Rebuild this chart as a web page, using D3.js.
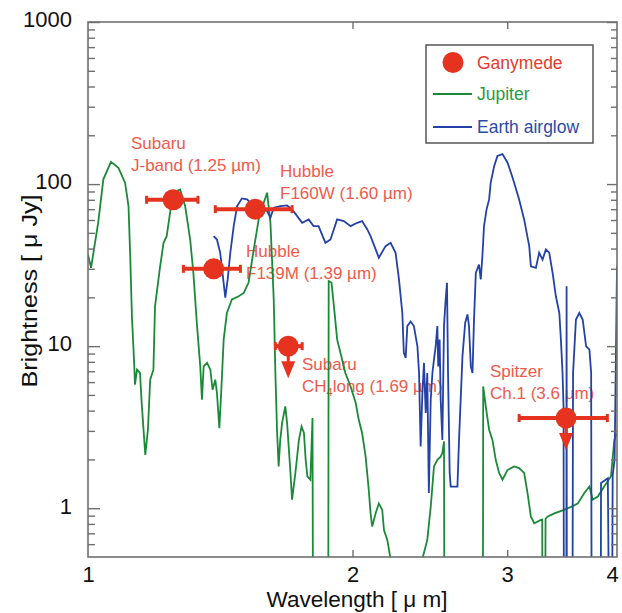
<!DOCTYPE html>
<html>
<head>
<meta charset="utf-8">
<script src="https://cdn.jsdelivr.net/npm/d3@7"></script>
<style>
  body { margin: 0; background: #fff; }
  text { font-family: "Liberation Sans", Arial, sans-serif; }
</style>
</head>
<body>
<script>
// axis settings
var xDomain = [1, 4];
var yDomain = [0.5, 1000];
var xTicks = [1, 2, 3, 4];
var yTicks = [1, 10, 100, 1000];

// Jupiter spectrum [wavelength um, brightness uJy] (0.3 = below the plot floor)
var jupiter = [
  [1.000, 36.8], [1.008, 30.4], [1.027, 57.7], [1.041, 107], [1.062, 137], [1.083, 126],
  [1.102, 102], [1.112, 73.1], [1.117, 35.9], [1.122, 15.3], [1.129, 7.50], [1.131, 5.78],
  [1.137, 7.16], [1.146, 6.83], [1.151, 4.48], [1.162, 2.13], [1.170, 3.05], [1.177, 6.21],
  [1.187, 7.16], [1.192, 17.6], [1.208, 31.1], [1.219, 43.4], [1.229, 47.7], [1.240, 66.6],
  [1.251, 88.5], [1.273, 92.7], [1.290, 73.1], [1.307, 45.5], [1.318, 28.3], [1.330, 13.9],
  [1.342, 7.50], [1.348, 4.67], [1.354, 7.50], [1.366, 7.88], [1.378, 7.16], [1.386, 5.38],
  [1.396, 6.21], [1.402, 5.14], [1.411, 3.12], [1.420, 6.21], [1.427, 11.0], [1.439, 16.0],
  [1.458, 19.4], [1.484, 20.3], [1.504, 21.3], [1.523, 24.6], [1.544, 39.5], [1.564, 60.5],
  [1.585, 76.7], [1.599, 88.5], [1.613, 57.7], [1.627, 19.4], [1.634, 6.83], [1.641, 3.05],
  [1.648, 1.81], [1.655, 2.64], [1.663, 3.35], [1.677, 4.25], [1.685, 3.35], [1.700, 1.65],
  [1.707, 1.13], [1.722, 1.65], [1.738, 2.64], [1.750, 3.19], [1.761, 2.91], [1.769, 1.99],
  [1.777, 1.57], [1.791, 1.50], [1.801, 3.60], [1.803, 0.3], [1.877, 0.3], [1.879, 25.2],
  [1.893, 24.6], [1.905, 17.6], [1.921, 11.0], [1.938, 9.08], [1.963, 6.83], [1.990, 5.64],
  [2.017, 4.46], [2.033, 3.51], [2.051, 2.91], [2.070, 2.08], [2.087, 1.30], [2.097, 0.93],
  [2.106, 0.77], [2.125, 0.93], [2.143, 1.07], [2.162, 0.976], [2.172, 0.734], [2.191, 0.637],
  [2.215, 0.45], [2.230, 0.3], [2.380, 0.3], [2.405, 0.5], [2.433, 0.637], [2.455, 1.02],
  [2.476, 1.81], [2.498, 1.99], [2.520, 2.08], [2.531, 2.19], [2.542, 2.58], [2.544, 0.3],
  [2.815, 0.3], [2.817, 5.64], [2.836, 4.25], [2.861, 3.05], [2.886, 2.64], [2.911, 1.99],
  [2.937, 1.65], [2.963, 1.50], [3.002, 1.72], [3.055, 1.81], [3.095, 1.77], [3.136, 1.65],
  [3.164, 1.24], [3.192, 0.887], [3.220, 0.808], [3.277, 0.847], [3.288, 0.85], [3.290, 0.3],
  [3.315, 0.3], [3.317, 0.86], [3.334, 0.887], [3.394, 0.93], [3.483, 0.976], [3.545, 1.02],
  [3.609, 1.07], [3.672, 1.24], [3.721, 1.36], [3.754, 1.13], [3.804, 1.18], [3.868, 1.36],
  [3.937, 1.57], [3.972, 2.64], [4.000, 2.91]
];

// Earth airglow spectrum
var airglow = [
  [1.390, 47.7], [1.402, 45.5], [1.414, 37.7], [1.424, 27.0], [1.433, 19.9], [1.442, 25.8],
  [1.452, 37.7], [1.465, 55.0], [1.478, 73.1], [1.497, 81.6], [1.517, 80.4], [1.537, 74.9],
  [1.571, 71.5], [1.599, 68.1], [1.613, 62.0], [1.627, 71.5], [1.655, 73.1], [1.685, 73.8],
  [1.707, 69.8], [1.730, 63.4], [1.753, 57.7], [1.783, 60.5], [1.806, 55.0], [1.830, 55.0],
  [1.863, 43.4], [1.888, 45.5], [1.921, 60.5], [1.955, 59.1], [1.990, 55.0], [2.025, 57.7],
  [2.051, 59.1], [2.079, 52.5], [2.097, 47.7], [2.143, 35.1], [2.181, 41.4], [2.210, 43.4],
  [2.239, 37.7], [2.259, 25.8], [2.279, 16.0], [2.288, 9.08], [2.299, 8.46], [2.309, 13.3],
  [2.329, 14.2], [2.349, 13.3], [2.371, 9.97], [2.381, 6.83], [2.391, 2.40], [2.402, 5.14],
  [2.412, 7.88], [2.423, 3.87], [2.433, 6.83], [2.443, 1.24], [2.455, 4.67], [2.466, 6.83],
  [2.476, 8.25], [2.487, 9.97], [2.498, 13.3], [2.504, 7.50], [2.513, 11.0], [2.520, 4.67],
  [2.531, 2.64], [2.542, 13.3], [2.553, 19.4], [2.562, 24.6], [2.569, 6.83], [2.580, 1.65],
  [2.587, 1.36], [2.633, 1.36], [2.644, 2.64], [2.668, 8.65], [2.687, 13.9], [2.703, 15.7],
  [2.714, 13.3], [2.727, 7.50], [2.739, 6.83], [2.750, 14.6], [2.763, 28.3], [2.786, 31.9],
  [2.799, 25.8], [2.811, 35.9], [2.823, 55.0], [2.842, 69.8], [2.861, 80.4], [2.873, 102],
  [2.899, 129], [2.924, 149], [2.963, 153], [3.002, 136], [3.029, 118], [3.055, 102],
  [3.095, 80.4], [3.136, 60.5], [3.178, 41.4], [3.192, 31.1], [3.234, 30.4], [3.262, 37.7],
  [3.291, 34.2], [3.320, 39.5], [3.349, 37.7], [3.379, 28.3], [3.408, 20.3], [3.439, 16.0],
  [3.453, 11.0], [3.468, 6.83], [3.477, 4.25], [3.480, 0.3], [3.503, 0.3], [3.505, 23.4],
  [3.507, 0.3], [3.560, 0.3], [3.565, 6.83], [3.592, 14.6], [3.624, 16.0], [3.656, 14.6],
  [3.689, 9.97], [3.721, 9.51], [3.738, 6.83], [3.742, 0.3], [3.834, 0.3], [3.836, 1.43],
  [3.905, 1.53], [3.915, 0.3], [3.950, 0.3], [3.955, 1.60], [3.975, 2.00], [3.990, 10.0],
  [4.000, 31.0]
];

// Ganymede measurements
var ganyName = ["Subaru J-band", "Hubble F160W", "Hubble F139M", "Subaru CH4long", "Spitzer Ch.1"];
var ganyWave = [1.25, 1.55, 1.39, 1.69, 3.50];
var ganyWaveLo = [1.166, 1.396, 1.284, 1.634, 3.095];
var ganyWaveHi = [1.334, 1.707, 1.491, 1.753, 3.90];
var ganyFlux = [80, 70, 30, 10, 3.6];
var ganyUpper = [false, false, false, true, true];

// annotation texts
var noteLines = [
  ["Subaru", "J-band (1.25 \u00b5m)"],
  ["Hubble", "F160W (1.60 \u00b5m)"],
  ["Hubble", "F139M (1.39 \u00b5m)"],
  ["Subaru", "CH4long (1.69 \u00b5m)"],
  ["Spitzer", "Ch.1 (3.6 \u00b5m)"]
];

var legendNames = ["Ganymede", "Jupiter", "Earth airglow"];

window.onload = function() {
  build_chart();
};

var build_chart = function() {
  var w = 622;
  var h = 613;
  var left = 88, right = 617, top = 22, bottom = 557;
  var red = "#e5331f";
  var noteRed = "#ef5a4c";
  var green = "#1b8a38";
  var blue = "#2341a6";
  var frame = "#707070";

  var x = d3.scaleLog().domain(xDomain).range([left, right]);
  var y = d3.scaleLog().domain(yDomain).range([bottom, top]);

  var svg = d3.select("body")
    .append("svg")
    .attr("width", w)
    .attr("height", h);

  svg.append("defs").append("clipPath")
    .attr("id", "plot")
    .append("rect")
    .attr("x", left).attr("y", top)
    .attr("width", right - left).attr("height", bottom - top);

  // annotations sit under the spectra
  var notePos = [[131, 149], [280, 177], [246, 257], [302, 370], [490, 377]];
  noteLines.forEach(function(lines, i) {
    var t = svg.append("text")
      .attr("x", notePos[i][0]).attr("y", notePos[i][1])
      .attr("font-size", 17)
      .attr("fill", noteRed);
    t.append("tspan").text(lines[0]);
    var second = t.append("tspan")
      .attr("x", notePos[i][0]).attr("dy", 22);
    if (lines[1].indexOf("CH4") === 0) {
      second.text("CH");
      t.append("tspan").attr("font-size", 11).attr("dy", 4).text("4");
      t.append("tspan").attr("dy", -4).text(lines[1].slice(3));
    } else {
      second.text(lines[1]);
    }
  });

  var line = d3.line()
    .x(function(d) { return x(d[0]); })
    .y(function(d) { return y(d[1]); });

  svg.append("path")
    .datum(jupiter)
    .attr("d", line)
    .attr("fill", "none")
    .attr("stroke", green)
    .attr("stroke-width", 1.8)
    .attr("clip-path", "url(#plot)");

  svg.append("path")
    .datum(airglow)
    .attr("d", line)
    .attr("fill", "none")
    .attr("stroke", blue)
    .attr("stroke-width", 1.8)
    .attr("clip-path", "url(#plot)");

  // ticks, pointing inside the frame
  var minorY = y.ticks().filter(function(d) {
    return yTicks.indexOf(d) < 0 && d > yDomain[0];
  });
  var tickGroups = [
    [d3.axisRight(y).tickValues(minorY).tickSize(7), left, 0],
    [d3.axisRight(y).tickValues(yTicks).tickSize(12), left, 0],
    [d3.axisLeft(y).tickValues(minorY).tickSize(6), right, 0],
    [d3.axisLeft(y).tickValues(yTicks).tickSize(10), right, 0],
    [d3.axisTop(x).tickValues([2, 3]).tickSize(7), 0, bottom],
    [d3.axisBottom(x).tickValues([2, 3]).tickSize(7), 0, top]
  ];
  tickGroups.forEach(function(t) {
    var g = svg.append("g")
      .attr("transform", "translate(" + t[1] + "," + t[2] + ")")
      .call(t[0].tickFormat(""));
    g.select(".domain").remove();
    g.selectAll("line").attr("stroke", frame).attr("stroke-width", 1.4);
  });

  svg.append("rect")
    .attr("x", left).attr("y", top)
    .attr("width", right - left).attr("height", bottom - top)
    .attr("fill", "none")
    .attr("stroke", frame)
    .attr("stroke-width", 1.6);

  // tick labels
  var yLab = svg.append("g")
    .attr("transform", "translate(" + left + ",0)")
    .call(d3.axisLeft(y).tickValues(yTicks).tickSize(0).tickPadding(16)
      .tickFormat(d3.format("d")));
  yLab.select(".domain").remove();
  yLab.selectAll("text")
    .attr("font-size", 22).attr("font-family", "Liberation Sans, Arial, sans-serif")
    .attr("fill", "#111").attr("dy", "0.22em");

  var xLab = svg.append("g")
    .attr("transform", "translate(0," + bottom + ")")
    .call(d3.axisBottom(x).tickValues(xTicks).tickSize(0).tickPadding(9)
      .tickFormat(d3.format("d")));
  xLab.select(".domain").remove();
  xLab.selectAll("text")
    .attr("font-size", 22).attr("font-family", "Liberation Sans, Arial, sans-serif")
    .attr("fill", "#111")
    .attr("dx", function(d) { return d === 4 ? -5 : 0; });

  svg.append("text")
    .attr("x", 357).attr("y", 607)
    .attr("text-anchor", "middle")
    .attr("font-size", 22)
    .attr("textLength", 181)
    .attr("lengthAdjust", "spacingAndGlyphs")
    .attr("fill", "#111")
    .text("Wavelength [ \u03bc m]");

  svg.append("text")
    .attr("transform", "translate(37,291) rotate(-90)")
    .attr("text-anchor", "middle")
    .attr("font-size", 22)
    .attr("textLength", 193)
    .attr("lengthAdjust", "spacingAndGlyphs")
    .attr("fill", "#111")
    .text("Brightness [ \u03bc Jy]");

  // Ganymede points
  var pts = ganyWave.map(function(d, i) {
    return { name: ganyName[i], wave: d, lo: ganyWaveLo[i], hi: ganyWaveHi[i],
      flux: ganyFlux[i], upper: ganyUpper[i] };
  });
  var pg = svg.selectAll("g.gany")
    .data(pts)
    .enter()
    .append("g")
    .attr("class", "gany");

  pg.append("line")
    .attr("x1", function(d) { return x(d.lo); })
    .attr("x2", function(d) { return x(d.hi); })
    .attr("y1", function(d) { return y(d.flux); })
    .attr("y2", function(d) { return y(d.flux); })
    .attr("stroke", red).attr("stroke-width", 4);
  ["lo", "hi"].forEach(function(k) {
    pg.append("rect")
      .attr("x", function(d) { return x(d[k]) - 1.5; })
      .attr("y", function(d) { return y(d.flux) - 4; })
      .attr("width", 3).attr("height", 8)
      .attr("fill", red);
  });
  pg.filter(function(d) { return d.upper; })
    .append("line")
    .attr("x1", function(d) { return x(d.wave); })
    .attr("x2", function(d) { return x(d.wave); })
    .attr("y1", function(d) { return y(d.flux); })
    .attr("y2", function(d) { return y(d.flux) + 18; })
    .attr("stroke", red).attr("stroke-width", 3);
  pg.filter(function(d) { return d.upper; })
    .append("path")
    .attr("d", function(d) {
      var cx = x(d.wave), cy = y(d.flux);
      return "M" + (cx - 7) + "," + (cy + 15) + "L" + (cx + 7) + "," + (cy + 15) +
        "L" + cx + "," + (cy + 32) + "Z";
    })
    .attr("fill", red);
  pg.append("circle")
    .attr("cx", function(d) { return x(d.wave); })
    .attr("cy", function(d) { return y(d.flux); })
    .attr("r", 10.5)
    .attr("fill", red);

  // legend
  var lg = svg.append("g");
  lg.append("rect")
    .attr("x", 426).attr("y", 45)
    .attr("width", 167).attr("height", 98)
    .attr("fill", "#fff")
    .attr("stroke", "#555")
    .attr("stroke-width", 1.5);
  lg.append("circle").attr("cx", 453).attr("cy", 62.5).attr("r", 10.5).attr("fill", red);
  lg.append("line").attr("x1", 433).attr("x2", 472).attr("y1", 94).attr("y2", 94)
    .attr("stroke", green).attr("stroke-width", 2);
  lg.append("line").attr("x1", 433).attr("x2", 472).attr("y1", 127).attr("y2", 127)
    .attr("stroke", blue).attr("stroke-width", 2);
  var legendColors = ["#e63a2c", "#2a9a43", "#2c4aa8"];
  var legendY = [68.5, 100, 133];
  legendNames.forEach(function(n, i) {
    lg.append("text")
      .attr("x", 477).attr("y", legendY[i])
      .attr("font-size", 17.5)
      .attr("fill", legendColors[i])
      .text(n);
  });
};
</script>
</body>
</html>
